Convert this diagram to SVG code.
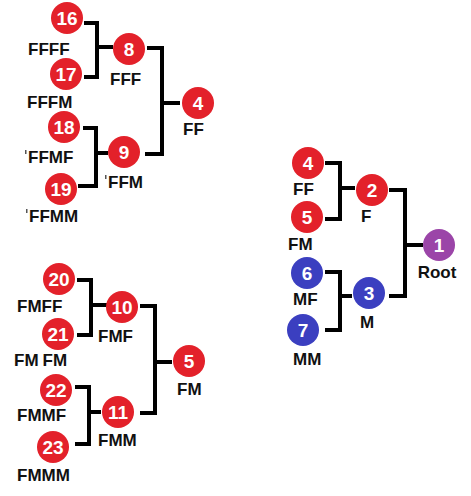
<svg xmlns="http://www.w3.org/2000/svg" width="471" height="496" viewBox="0 0 471 496">
<style>
.red{fill:#e3212a}
.blue{fill:#3b3fc0}
.purple{fill:#9b45a8}
.num{font-family:"Liberation Sans",Arial,sans-serif;font-weight:bold;font-size:19px;fill:#fff;text-anchor:middle}
.lbl{font-family:"Liberation Sans",Arial,sans-serif;font-weight:bold;font-size:17px;fill:#111}
.con{fill:none;stroke:#000;stroke-width:4;stroke-linejoin:miter}
</style>
<rect width="471" height="496" fill="#fff"/>
<g id="connectors">
<path class="con" d="M84 23H97V77H84M97 47H113"/>
<path class="con" d="M83 128H96V186H78M96 153H108"/>
<path class="con" d="M147 48H162V154H145M162 103H180"/>
<path class="con" d="M77 280H91V335H77M91 305H108"/>
<path class="con" d="M75 387H89V444H75M89 412H101"/>
<path class="con" d="M140 306H155V413H140M155 362H172"/>
<path class="con" d="M325 163H340V219H325M340 188H355"/>
<path class="con" d="M325 272H340V330H325M340 296H352"/>
<path class="con" d="M389 190H405V296H389M405 245H423"/>
<rect x="25" y="150" width="1.5" height="4" fill="#555"/>
<rect x="105" y="175" width="1.5" height="4" fill="#555"/>
<rect x="26" y="209" width="1.5" height="4" fill="#555"/>
</g>
<g id="n16"><circle class="red" cx="67" cy="18" r="16"/><text class="num" x="67" y="25">16</text><text class="lbl" x="28" y="55">FFFF</text></g>
<g id="n17"><circle class="red" cx="66" cy="74" r="16"/><text class="num" x="66" y="81">17</text><text class="lbl" x="27" y="108">FFFM</text></g>
<g id="n8"><circle class="red" cx="129" cy="49" r="16"/><text class="num" x="129" y="56">8</text><text class="lbl" x="110" y="85">FFF</text></g>
<g id="n18"><circle class="red" cx="64" cy="127" r="16"/><text class="num" x="64" y="134">18</text><text class="lbl" x="28" y="163">FFMF</text></g>
<g id="n19"><circle class="red" cx="61" cy="189" r="16"/><text class="num" x="61" y="196">19</text><text class="lbl" x="29" y="222">FFMM</text></g>
<g id="n9"><circle class="red" cx="124" cy="152" r="16"/><text class="num" x="124" y="159">9</text><text class="lbl" x="108" y="188">FFM</text></g>
<g id="n4a"><circle class="red" cx="198" cy="103" r="16"/><text class="num" x="198" y="110">4</text><text class="lbl" x="183" y="135">FF</text></g>
<g id="n20"><circle class="red" cx="59" cy="279" r="16"/><text class="num" x="59" y="286">20</text><text class="lbl" x="17" y="312">FMFF</text></g>
<g id="n21"><circle class="red" cx="58" cy="334" r="16"/><text class="num" x="58" y="341">21</text><text class="lbl" x="14" y="366">FM<tspan dx="4">FM</tspan></text></g>
<g id="n10"><circle class="red" cx="122" cy="307" r="16"/><text class="num" x="122" y="314">10</text><text class="lbl" x="98" y="342">FMF</text></g>
<g id="n22"><circle class="red" cx="56" cy="390" r="16"/><text class="num" x="56" y="397">22</text><text class="lbl" x="17" y="421">FMMF</text></g>
<g id="n23"><circle class="red" cx="53" cy="447" r="16"/><text class="num" x="53" y="454">23</text><text class="lbl" x="17" y="481">FMMM</text></g>
<g id="n11"><circle class="red" cx="118" cy="412" r="16"/><text class="num" x="118" y="419">11</text><text class="lbl" x="98" y="446">FMM</text></g>
<g id="n5a"><circle class="red" cx="189" cy="361" r="16"/><text class="num" x="189" y="368">5</text><text class="lbl" x="177" y="395">FM</text></g>
<g id="n4"><circle class="red" cx="308" cy="163" r="16"/><text class="num" x="308" y="170">4</text><text class="lbl" x="293" y="195">FF</text></g>
<g id="n5"><circle class="red" cx="307" cy="217" r="16"/><text class="num" x="307" y="224">5</text><text class="lbl" x="288" y="250">FM</text></g>
<g id="n2"><circle class="red" cx="372" cy="190" r="16"/><text class="num" x="372" y="197">2</text><text class="lbl" x="361" y="222">F</text></g>
<g id="n6"><circle class="blue" cx="307" cy="273" r="16"/><text class="num" x="307" y="280">6</text><text class="lbl" x="293" y="305">MF</text></g>
<g id="n7"><circle class="blue" cx="303" cy="330" r="16"/><text class="num" x="303" y="337">7</text><text class="lbl" x="293" y="365">MM</text></g>
<g id="n3"><circle class="blue" cx="369" cy="293" r="16"/><text class="num" x="369" y="300">3</text><text class="lbl" x="360" y="328">M</text></g>
<g id="n1"><circle class="purple" cx="439" cy="245" r="16"/><text class="num" x="439" y="252">1</text><text class="lbl" x="437" y="278" text-anchor="middle">Root</text></g>
</svg>
